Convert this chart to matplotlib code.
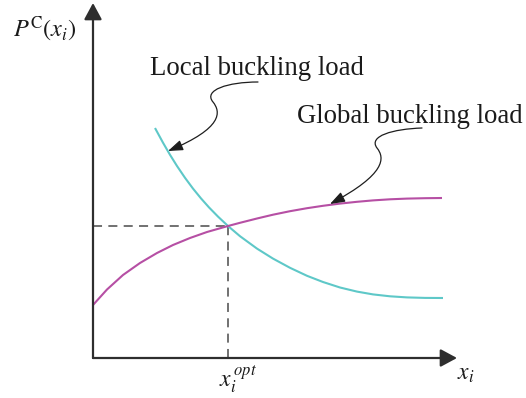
import matplotlib
matplotlib.use("Agg")
import matplotlib.pyplot as plt
from matplotlib.patches import FancyArrowPatch, ArrowStyle
from matplotlib.path import Path

plt.rcParams["mathtext.fontset"] = "stix"
plt.rcParams["font.family"] = ["Liberation Serif", "DejaVu Serif"]

# Local buckling load (decreasing with x_i), arbitrary units
local_x = [62, 70, 77, 84, 92, 100, 108, 116, 125, 135, 147, 164, 180, 197,
           214, 230, 247, 264, 280, 297, 314, 332, 350]
local_y = [230, 215.3, 203.2, 192, 180.2, 169.4, 159.6, 150.6, 141.4, 132,
           121.8, 109.4, 99.4, 90.2, 82.2, 76, 70.5, 66.4, 63.6, 61.7, 60.6,
           60.1, 60]

# Global buckling load (increasing with x_i)
global_x = [0, 14, 30, 47, 64, 80, 97, 114, 135, 147, 164, 180, 197, 214,
            230, 247, 264, 280, 297, 314, 332, 349]
global_y = [53, 68.5, 83, 95, 105, 113, 120, 126, 132, 135.2, 139.5, 143.3,
            146.8, 149.8, 152.2, 154.4, 156.2, 157.6, 158.7, 159.4, 159.8, 160]

# Optimum where both loads coincide
x_opt, p_opt = 135, 132

# Axis extents
x_axis_end = 364
y_axis_end = 355

# Callout paths (two cubic segments each)
local_note_path = [(165, 276), (135, 276), (110, 268), (120, 256),
                   (128, 246), (130, 230), (75, 207)]
global_note_path = [(329, 230), (300, 229), (275, 222), (284, 210),
                    (292, 200), (293, 184), (237, 154)]

teal = "#5ec8c8"
magenta = "#b64fa4"
axis_color = "#2e2e2e"
text_color = "#1a1a1a"

fig = plt.figure(figsize=(5.26, 3.98), dpi=100)
ax = fig.add_axes([0, 0, 1, 1])
ax.set_xlim(-93, 433)
ax.set_ylim(-40, 358)
ax.axis("off")

# Axes with filled arrowheads
axis_style = ArrowStyle("-|>", head_length=10.0, head_width=5.4)
for tip in [(x_axis_end, 0), (0, y_axis_end)]:
    ax.add_patch(FancyArrowPatch((0, 0), tip, arrowstyle=axis_style,
                                 mutation_scale=1, lw=1.6, color=axis_color,
                                 shrinkA=0, shrinkB=0, zorder=3))

# Dashed guides to the optimum
ax.plot([0, x_opt], [p_opt, p_opt], color="#666666", lw=1.3,
        dashes=(5, 3.5), zorder=1)
ax.plot([x_opt, x_opt], [0, p_opt], color="#666666", lw=1.3,
        dashes=(5, 3.5), zorder=1)

# Curves
ax.plot(local_x, local_y, color=teal, lw=1.5, solid_capstyle="butt",
        solid_joinstyle="round", zorder=2)
ax.plot(global_x, global_y, color=magenta, lw=1.5, solid_capstyle="butt",
        solid_joinstyle="round", zorder=2)

# Callout arrows
codes = [Path.MOVETO, Path.CURVE4, Path.CURVE4, Path.CURVE4,
         Path.CURVE4, Path.CURVE4, Path.CURVE4]
note_style = ArrowStyle("-|>", head_length=9.0, head_width=3.2)
for pts in (local_note_path, global_note_path):
    ax.add_patch(FancyArrowPatch(path=Path(pts, codes), arrowstyle=note_style,
                                 mutation_scale=1, lw=0.9, color="#1e1e1e",
                                 zorder=4))

# Labels
ax.text(57, 283, "Local buckling load", fontsize=19.3, ha="left",
        va="baseline", color=text_color)
ax.text(204, 235, "Global buckling load", fontsize=19.3, ha="left",
        va="baseline", color=text_color)
ax.text(-80, 321, r"$P^{\mathrm{C}}(x_i)$", fontsize=17.5, ha="left",
        va="baseline", color=text_color)
ax.text(x_opt - 9, -28, r"$x_i^{\,opt}$", fontsize=17, ha="left",
        va="baseline", color=text_color)
ax.text(364, -22, r"$x_i$", fontsize=17, ha="left", va="baseline",
        color=text_color)

fig.savefig("out.png", dpi=100)
